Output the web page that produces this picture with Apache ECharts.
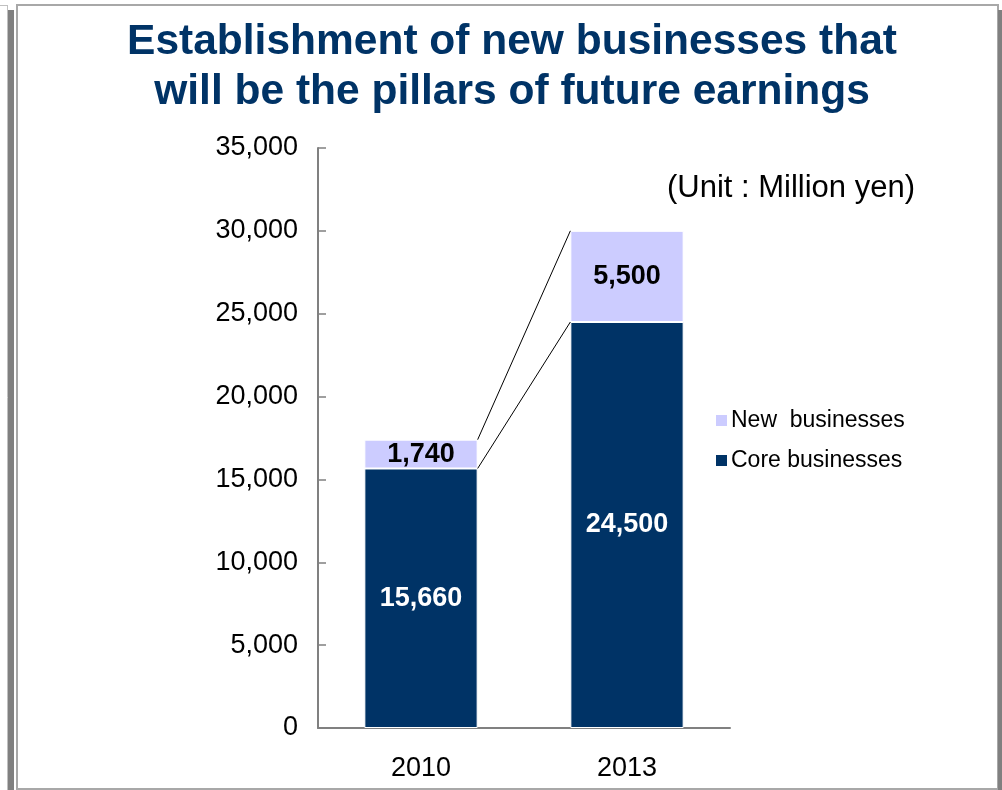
<!DOCTYPE html>
<html>
<head>
<meta charset="utf-8">
<style>
  html, body { margin: 0; padding: 0; background: #fff; }
  #chart { width: 1002px; height: 790px; }
</style>
<script src="https://cdn.jsdelivr.net/npm/echarts@6/dist/echarts.min.js"></script>
</head>
<body>
<div id="chart"></div>
<script>
// Fiscal years and earnings (million yen)
const years = ['2010', '2013'];
const coreBusinesses = [15660, 24500];
const newBusinesses = [1740, 5500];
const yTicks = [0, 5000, 10000, 15000, 20000, 25000, 30000, 35000];

const NAVY = '#003366';
const LAVENDER = '#CCCCFF';
const FONT = '"Liberation Sans", Arial, sans-serif';
const BAR_RATIO = 0.55;

const totals = coreBusinesses.map((v, i) => v + newBusinesses[i]);
const fmt = v => v.toLocaleString('en-US');

// Connector segments: top of core stack and top of total stack, 2010 -> 2013
const connectors = [
  [0, coreBusinesses[0], coreBusinesses[1]],
  [0, totals[0], totals[1]]
];

const chart = echarts.init(document.getElementById('chart'));

chart.setOption({
  backgroundColor: '#fff',
  animation: false,
  textStyle: { fontFamily: FONT },
  title: {
    text: 'Establishment of new businesses that\nwill be the pillars of future earnings',
    left: 507,
    textAlign: 'center',
    top: 12,
    textStyle: {
      color: NAVY,
      fontFamily: FONT,
      fontWeight: 'bold',
      fontSize: 42.5,
      lineHeight: 50
    }
  },
  legend: {
    data: ['New businesses', 'Core businesses'],
    formatter: name => name === 'New businesses' ? 'New  businesses' : name,
    orient: 'vertical',
    left: 709,
    top: 404,
    itemWidth: 13,
    itemHeight: 13,
    itemGap: 17,
    icon: 'rect',
    textStyle: { color: '#000', fontSize: 23, fontFamily: FONT, padding: [0, 0, 0, -2] }
  },
  grid: { left: 318, right: 272, top: 148, bottom: 62 },
  xAxis: {
    type: 'category',
    data: years,
    axisLine: { lineStyle: { color: '#808080', width: 2 } },
    axisTick: { inside: true, length: 8, lineStyle: { color: '#808080', width: 1.5 } },
    axisLabel: { color: '#000', fontSize: 27, fontFamily: FONT, margin: 27 }
  },
  yAxis: {
    type: 'value',
    min: 0,
    max: 35000,
    interval: 5000,
    splitLine: { show: false },
    axisLine: { show: true, lineStyle: { color: '#808080', width: 2 } },
    axisTick: { show: true, inside: true, length: 8, lineStyle: { color: '#808080', width: 1.5 } },
    axisLabel: {
      color: '#000',
      fontSize: 27,
      fontFamily: FONT,
      margin: 20,
      formatter: v => yTicks.includes(v) ? fmt(v) : ''
    }
  },
  series: [
    {
      name: 'Core businesses',
      type: 'bar',
      stack: 'total',
      barWidth: (BAR_RATIO * 100) + '%',
      data: coreBusinesses,
      itemStyle: { color: NAVY, borderColor: '#fff', borderWidth: 1 },
      label: {
        show: true,
        position: 'inside',
        color: '#fff',
        fontWeight: 'bold',
        fontSize: 27,
        fontFamily: FONT,
        formatter: p => fmt(p.value)
      }
    },
    {
      name: 'New businesses',
      type: 'bar',
      stack: 'total',
      barWidth: (BAR_RATIO * 100) + '%',
      data: newBusinesses,
      itemStyle: { color: LAVENDER, borderColor: '#fff', borderWidth: 1 },
      label: {
        show: true,
        position: 'inside',
        color: '#000',
        fontWeight: 'bold',
        fontSize: 27,
        fontFamily: FONT,
        formatter: p => fmt(p.value)
      }
    },
    {
      name: 'connectors',
      type: 'custom',
      silent: true,
      clip: false,
      z: 5,
      encode: { x: 0, y: [1, 2] },
      data: connectors,
      renderItem: (params, api) => {
        const bw = api.size([1, 0])[0] * BAR_RATIO;
        const a = api.coord([0, api.value(1)]);
        const b = api.coord([1, api.value(2)]);
        return {
          type: 'line',
          shape: { x1: a[0] + bw / 2, y1: a[1], x2: b[0] - bw / 2, y2: b[1] },
          style: { stroke: '#000', lineWidth: 1 }
        };
      }
    }
  ],
  graphic: [
    // page frame
    { type: 'line', shape: { x1: 0, y1: 5.5, x2: 7, y2: 5.5 }, style: { stroke: '#c0c0c0', lineWidth: 1 } },
    { type: 'line', shape: { x1: 7.5, y1: 5, x2: 7.5, y2: 790 }, style: { stroke: '#c0c0c0', lineWidth: 1 } },
    { type: 'rect', shape: { x: 8, y: 10, width: 6, height: 780 }, style: { fill: '#808080' } },
    { type: 'rect', shape: { x: 17, y: 5, width: 981, height: 784 }, style: { fill: 'none', stroke: '#a8a8a8', lineWidth: 2 } },
    { type: 'rect', shape: { x: 998, y: 10, width: 4, height: 780 }, style: { fill: '#808080' } },
    // unit note
    {
      type: 'text',
      x: 915,
      y: 188,
      style: {
        text: '(Unit : Million yen)',
        fill: '#000',
        font: '31px ' + FONT,
        textAlign: 'right',
        textVerticalAlign: 'middle'
      }
    }
  ]
});
</script>
</body>
</html>
